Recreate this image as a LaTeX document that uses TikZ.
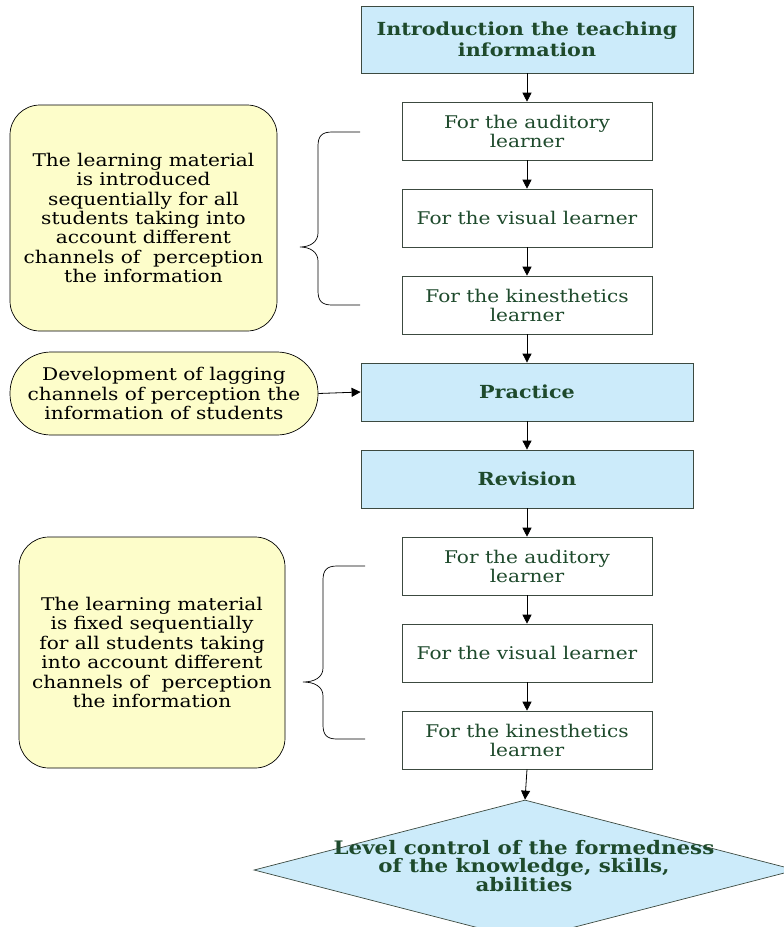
\documentclass[tikz,border=0pt]{standalone}
\usepackage{fontspec}
\setmainfont{DejaVu Serif}[FakeStretch=1.15]
\usetikzlibrary{shapes.geometric,arrows.meta}
\definecolor{tgreen}{HTML}{1E4A2C}
\definecolor{bfill}{HTML}{CCEBFA}
\definecolor{yfill}{HTML}{FDFDCA}
\definecolor{bline}{HTML}{3C4A40}
\tikzset{
  mainbox/.style={draw=bline, fill=bfill, line width=0.8pt, minimum width=332pt, inner sep=2pt,
    text=tgreen, align=center, font=\fontsize{18}{21.5}\selectfont\bfseries},
  subbox/.style={draw=bline, fill=white, line width=0.6pt, minimum width=250pt, minimum height=58pt, inner sep=2pt,
    text=tgreen, align=center, font=\fontsize{17.5}{19}\selectfont},
  notebox/.style={draw=black, fill=yfill, line width=0.7pt, align=center, inner sep=2pt,
    font=\fontsize{17.5}{19.4}\selectfont},
  arr/.style={draw=black, line width=0.8pt, -{Triangle[length=9pt,width=9pt]}},
  brace/.style={draw=black, line width=0.7pt}
}
\begin{document}
\begin{tikzpicture}[x=1pt,y=-1pt]
\useasboundingbox (0,0) rectangle (784,927);
\node[mainbox, minimum height=67pt] (intro) at (527,39.5) {Introduction the teaching\\information};
\node[subbox] (aud1) at (527,131) {For the auditory\\learner};
\node[subbox] (vis1) at (527,218) {For the visual learner};
\node[subbox] (kin1) at (527,305) {For the kinesthetics\\learner};
\node[mainbox, minimum height=58pt] (prac) at (527,392) {Practice};
\node[mainbox, minimum height=58pt] (rev) at (527,479) {Revision};
\node[subbox] (aud2) at (527,566) {For the auditory\\learner};
\node[subbox] (vis2) at (527,653) {For the visual learner};
\node[subbox] (kin2) at (527,740) {For the kinesthetics\\learner};
\node[diamond, aspect=3.87, draw=bline, fill=bfill, line width=0.7pt, minimum width=542pt, minimum height=140pt,
  inner sep=0pt] (ctrl) at (525,870) {};
\node[text=tgreen, align=center, inner sep=0pt, font=\fontsize{18.6}{17.4}\selectfont\bfseries] (ctrltext) at (524,866)
  {Level control of the formedness\\of the knowledge, skills,\\abilities};

\node[notebox, rounded corners=30pt, minimum width=267pt, minimum height=226pt] (note1) at (143.5,218)
  {The learning material\\is introduced\\sequentially for all\\students taking into\\account different\\channels of~ perception\\the information};
\node[notebox, rounded corners=41pt, minimum width=308pt, minimum height=83pt] (note2) at (164,393.5)
  {Development of lagging\\channels of perception the\\information of students};
\node[notebox, rounded corners=30pt, minimum width=266pt, minimum height=231pt] (note3) at (152,652.5)
  {The learning material\\is fixed sequentially\\for all students taking\\into account different\\channels of~ perception\\the information};

\draw[arr] (intro) -- (aud1);
\draw[arr] (aud1) -- (vis1);
\draw[arr] (vis1) -- (kin1);
\draw[arr] (kin1) -- (prac);
\draw[arr] (prac) -- (rev);
\draw[arr] (rev) -- (aud2);
\draw[arr] (aud2) -- (vis2);
\draw[arr] (vis2) -- (kin2);
\draw[arr] (kin2.south) -- (ctrl.north);
\draw[arr] (note2.east) -- (prac.west);

\draw[brace] (360,132) -- (332,132) .. controls (322,132) and (318,136) .. (318,146) -- (318,233)
  .. controls (318,242) and (310,247) .. (300,247) .. controls (310,247) and (318,252) .. (318,261)
  -- (318,291) .. controls (318,301) and (322,305) .. (332,305) -- (360,305);
\draw[brace] (365,566) -- (337,566) .. controls (327,566) and (323,570) .. (323,580) -- (323,668)
  .. controls (323,677) and (315,682) .. (303,682) .. controls (315,682) and (323,687) .. (323,696)
  -- (323,725) .. controls (323,735) and (327,739) .. (337,739) -- (365,739);
\end{tikzpicture}
\end{document}
